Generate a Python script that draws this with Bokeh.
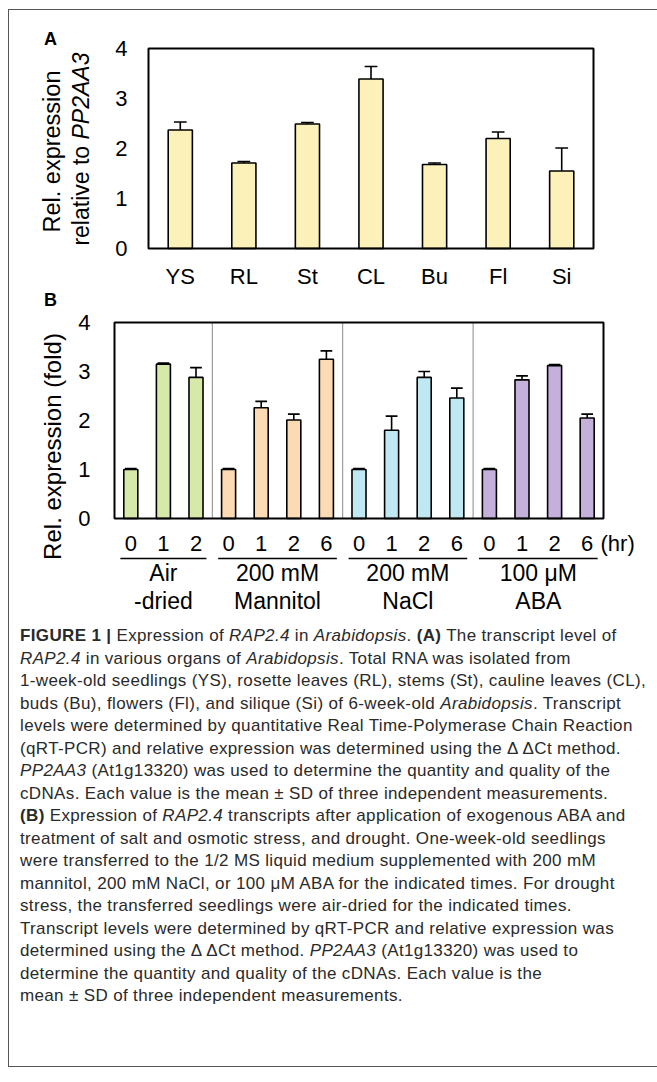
import math
from bokeh.plotting import figure
from bokeh.models import Range1d, FixedTicker, Label, Div
from bokeh.layouts import column
from bokeh.embed import file_html
from bokeh.resources import INLINE

# ---------------- data ----------------
organs = ["YS", "RL", "St", "CL", "Bu", "Fl", "Si"]
organ_expr = [2.37, 1.71, 2.49, 3.39, 1.68, 2.20, 1.55]
organ_sd = [0.16, 0.03, 0.03, 0.25, 0.03, 0.13, 0.46]

group_line1 = ["Air", "200 mM", "200 mM", "100 \u03bcM"]
group_line2 = ["-dried", "Mannitol", "NaCl", "ABA"]
group_times = [["0", "1", "2"], ["0", "1", "2", "6"], ["0", "1", "2", "6"], ["0", "1", "2", "6"]]
group_expr = [[1.00, 3.15, 2.88], [1.00, 2.26, 2.01, 3.25], [1.00, 1.80, 2.88, 2.46], [1.00, 2.83, 3.12, 2.05]]
group_sd = [[0.02, 0.02, 0.20], [0.02, 0.13, 0.12, 0.17], [0.02, 0.29, 0.12, 0.20], [0.02, 0.08, 0.02, 0.08]]
group_colors = ["#D6E9A9", "#FCDAB4", "#BFE8F2", "#C5B0DB"]
organ_color = "#FCF1B8"
y_ticks = [0, 1, 2, 3, 4]
Y_MAX = 4

FONT = "Liberation Sans"


def make_panel(width, height, box, nx, ny):
    """box = (left, top, right, bottom) pixel position of the plot box in the figure."""
    l, t, r, b = box
    sx = (r - l) / nx
    sy = (b - t) / ny
    p = figure(width=width, height=height,
               x_range=Range1d(-l / sx, nx + (width - r) / sx),
               y_range=Range1d(-(height - b) / sy, ny + t / sy),
               min_border=0, output_backend="svg", toolbar_location=None)
    p.outline_line_color = None
    p.xgrid.visible = False
    p.ygrid.visible = False
    for ax in (p.xaxis, p.yaxis):
        ax.fixed_location = 0
        ax.axis_line_color = None
        ax.major_tick_line_color = None
        ax.minor_tick_line_color = None
        ax.major_label_text_font = FONT
        ax.major_label_text_font_size = "22px"
        ax.major_label_text_color = "black"
    X = lambda px: (px - l) / sx
    Y = lambda py: (b - py) / sy
    return p, X, Y


def label(p, x, y, text, size="22px", style="normal", align="center", baseline="middle", angle=0.0):
    p.add_layout(Label(x=x, y=y, text=text, text_font=FONT, text_font_size=size,
                       text_font_style=style, text_align=align, text_baseline=baseline,
                       angle=angle, text_color="black"))


# ---------------- panel A ----------------
pa, AX, AY = make_panel(657, 290, (148, 48, 593, 248), len(organs), Y_MAX)
xa = [i + 0.5 for i in range(len(organs))]
pa.xaxis.ticker = FixedTicker(ticks=xa)
pa.xaxis.major_label_overrides = {x: t for x, t in zip(xa, organs)}
pa.xaxis.major_label_standoff = 9
pa.yaxis.ticker = FixedTicker(ticks=y_ticks)
pa.yaxis.major_label_standoff = 15

pa.vbar(x=xa, top=organ_expr, width=0.38, fill_color=organ_color, line_color="black", line_width=1.6)
tops_a = [v + s for v, s in zip(organ_expr, organ_sd)]
pa.segment(x0=xa, y0=organ_expr, x1=xa, y1=tops_a, line_color="black", line_width=1.6)
pa.segment(x0=[x - 0.1 for x in xa], y0=tops_a, x1=[x + 0.1 for x in xa], y1=tops_a,
           line_color="black", line_width=1.6)
pa.quad(left=[0], right=[len(organs)], bottom=[0], top=[Y_MAX], fill_color=None,
        line_color="black", line_width=2)

label(pa, AX(50), AY(38), "A", size="18px", style="bold")
label(pa, AX(51), AY(151), "Rel. expression", size="23.5px", baseline="alphabetic", angle=math.pi / 2)
label(pa, AX(80), AY(139), "relative to ", size="23px", align="right", baseline="alphabetic",
      angle=math.pi / 2)
label(pa, AX(80), AY(139), "PP2AA3", size="23px", style="italic", align="left", baseline="alphabetic",
      angle=math.pi / 2)

# ---------------- panel B ----------------
n_slots = sum(len(g) for g in group_times)
pb, BX, BY = make_panel(657, 325, (114, 32, 603, 228), n_slots, Y_MAX)

xb, labels_b, bounds, start = [], {}, [], 0
for gi, (times, vals, sds, col) in enumerate(zip(group_times, group_expr, group_sd, group_colors)):
    xs = [start + i + 0.5 for i in range(len(times))]
    for x, t in zip(xs, times):
        labels_b[x] = t
    tops = [v + s for v, s in zip(vals, sds)]
    pb.vbar(x=xs, top=vals, width=0.43, fill_color=col, line_color="black", line_width=1.6)
    pb.segment(x0=xs, y0=vals, x1=xs, y1=tops, line_color="black", line_width=1.6)
    pb.segment(x0=[x - 0.18 for x in xs], y0=tops, x1=[x + 0.18 for x in xs], y1=tops,
               line_color="black", line_width=1.6)
    g0, g1 = start, start + len(times)
    # group underline and two-line group label
    pb.segment(x0=[g0 + 0.18], y0=[BY(268)], x1=[g1 - 0.18], y1=[BY(268)], line_color="black",
               line_width=1.6)
    gc = (g0 + g1) / 2
    label(pb, gc, BY(282), group_line1[gi], size="23px")
    label(pb, gc, BY(310), group_line2[gi], size="23px")
    if gi > 0:
        bounds.append(g0)
    start = g1
    xb.extend(xs)

pb.segment(x0=bounds, y0=[0] * len(bounds), x1=bounds, y1=[Y_MAX] * len(bounds),
           line_color="#8a8a8a", line_width=1)
pb.quad(left=[0], right=[n_slots], bottom=[0], top=[Y_MAX], fill_color=None,
        line_color="black", line_width=2)

pb.xaxis.ticker = FixedTicker(ticks=xb)
pb.xaxis.major_label_overrides = labels_b
pb.xaxis.major_label_standoff = 11
pb.yaxis.ticker = FixedTicker(ticks=y_ticks)
pb.yaxis.major_label_standoff = 18

label(pb, BX(600), BY(253), "(hr)", size="22px", align="left")
label(pb, BX(50), BY(9), "B", size="18px", style="bold")
label(pb, BX(52), BY(156), "Rel. expression (fold)", size="24px", baseline="alphabetic",
      angle=math.pi / 2)

# ---------------- caption ----------------
caption_lines = [
    "<b>FIGURE 1 |</b> Expression of <i>RAP2.4</i> in <i>Arabidopsis</i>. <b>(A)</b> The transcript level of",
    "<i>RAP2.4</i> in various organs of <i>Arabidopsis</i>. Total RNA was isolated from",
    "1-week-old seedlings (YS), rosette leaves (RL), stems (St), cauline leaves (CL),",
    "buds (Bu), flowers (Fl), and silique (Si) of 6-week-old <i>Arabidopsis</i>. Transcript",
    "levels were determined by quantitative Real Time-Polymerase Chain Reaction",
    "(qRT-PCR) and relative expression was determined using the \u0394\u2009\u0394Ct method.",
    "<i>PP2AA3</i> (At1g13320) was used to determine the quantity and quality of the",
    "cDNAs. Each value is the mean \u00b1 SD of three independent measurements.",
    "<b>(B)</b> Expression of <i>RAP2.4</i> transcripts after application of exogenous ABA and",
    "treatment of salt and osmotic stress, and drought. One-week-old seedlings",
    "were transferred to the 1/2 MS liquid medium supplemented with 200 mM",
    "mannitol, 200 mM NaCl, or 100 \u03bcM ABA for the indicated times. For drought",
    "stress, the transferred seedlings were air-dried for the indicated times.",
    "Transcript levels were determined by qRT-PCR and relative expression was",
    "determined using the \u0394\u2009\u0394Ct method. <i>PP2AA3</i> (At1g13320) was used to",
    "determine the quantity and quality of the cDNAs. Each value is the",
    "mean \u00b1 SD of three independent measurements.",
]
html = (
    '<div style="position:fixed;left:8px;top:9px;width:720px;height:1058px;'
    'border:1.5px solid #555;box-sizing:border-box;pointer-events:none;"></div>'
    '<div style="font-family:\'Liberation Sans\',Arial,sans-serif;font-size:17px;letter-spacing:0.35px;'
    'line-height:22.5px;color:#2a2a2a;padding-left:15px;padding-top:5px;white-space:nowrap;">'
    + "<br>".join(caption_lines) + "</div>"
)
cap = Div(text=html, width=657, height=455)

layout = column(pa, pb, cap, spacing=0)
open("out.html", "w").write(file_html(layout, INLINE))
